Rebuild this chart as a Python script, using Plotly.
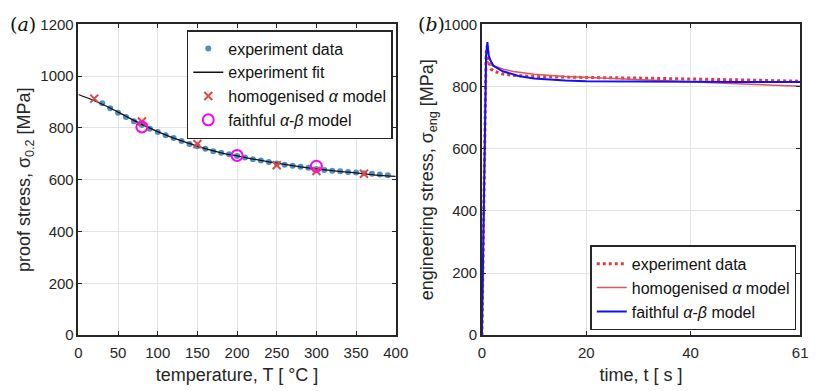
import plotly.graph_objects as go

# ---- panel (a) data ----
exp_T = list(range(30, 400, 10))
exp_sigma = [895, 876, 859, 842, 826, 811, 797, 784, 772, 761, 750, 738, 729, 720, 710,
             704, 698, 692, 686, 679, 674, 668, 663, 658, 654, 650, 646, 641, 638, 635,
             633, 630, 628, 625, 623, 620, 617]
fit_T = list(range(0, 401, 20))
fit_sigma = [929, 905, 877, 845, 814, 786, 761, 740, 720, 704, 692, 680, 669, 659, 650,
             642, 635, 629, 623, 617, 613]
homo_T = [20, 80, 150, 250, 300, 360]
homo_sigma = [913, 825, 738, 656, 634, 623]
faith_T = [80, 200, 300]
faith_sigma = [804, 694, 652]

# ---- panel (b) data ----
exp_t = [0, 0.2, 0.4, 0.6, 0.8, 1.0, 1.3, 1.8, 2.5, 4, 6, 10, 15, 20, 30, 40, 50, 61]
exp_s = [0, 250, 550, 800, 905, 930, 880, 855, 848, 840, 836, 832, 830, 829, 827, 825, 821, 817]
homo_t = [0, 0.2, 0.4, 0.6, 0.8, 1.0, 1.5, 2.2, 4, 6, 10, 16, 20, 30, 40, 50, 61]
homo_s = [0, 250, 550, 800, 870, 882, 872, 866, 856, 848, 839, 832, 829, 822, 815, 808, 801]
faith_t = [0, 0.2, 0.4, 0.6, 0.8, 1.05, 1.3, 1.6, 2.2, 4, 7, 10, 16, 20, 30, 40, 50, 61]
faith_s = [0, 260, 560, 810, 900, 943, 900, 885, 867, 849, 834, 826, 819, 817, 815, 815, 814, 814]

FONT = "Liberation Sans, Arial, sans-serif"
AX = "#262626"
GRID = "#e3e3e3"

fig = go.Figure()

fig.add_trace(go.Scatter(x=exp_T, y=exp_sigma, mode="markers", name="experiment data",
                         marker=dict(color="#4f8dc2", size=6), legend="legend"))
fig.add_trace(go.Scatter(x=fit_T, y=fit_sigma, mode="lines", name="experiment fit",
                         line=dict(color="#111111", width=1.3, shape="spline"), legend="legend"))
fig.add_trace(go.Scatter(x=homo_T, y=homo_sigma, mode="markers", name="homogenised <i>α</i> model",
                         marker=dict(symbol="x-thin", color="#e04848", size=8,
                                     line=dict(color="#e04848", width=2)), legend="legend"))
fig.add_trace(go.Scatter(x=faith_T, y=faith_sigma, mode="markers", name="faithful <i>α</i>-<i>β</i> model",
                         marker=dict(symbol="circle-open", color="#ff00ff", size=11,
                                     line=dict(color="#ff00ff", width=2)), legend="legend"))

fig.add_trace(go.Scatter(x=exp_t, y=exp_s, mode="lines", name="experiment data",
                         line=dict(color="#e03a3a", width=3, dash="dot"),
                         xaxis="x2", yaxis="y2", legend="legend2"))
fig.add_trace(go.Scatter(x=homo_t, y=homo_s, mode="lines", name="homogenised <i>α</i> model",
                         line=dict(color="#e05555", width=1.5),
                         xaxis="x2", yaxis="y2", legend="legend2"))
fig.add_trace(go.Scatter(x=faith_t, y=faith_s, mode="lines", name="faithful <i>α</i>-<i>β</i> model",
                         line=dict(color="#1010ff", width=2),
                         xaxis="x2", yaxis="y2", legend="legend2"))

axis_common = dict(showline=True, linecolor=AX, linewidth=1.5, mirror="ticks",
                   ticks="inside", ticklen=4, tickcolor=AX, showgrid=True,
                   gridcolor=GRID, gridwidth=1, zeroline=False,
                   tickfont=dict(family=FONT, size=15, color=AX),
                   title_font=dict(family=FONT, size=18, color=AX))

y0, y1 = 1 - 341 / 391, 1 - 16 / 391

legend_common = dict(bgcolor="white", bordercolor=AX, borderwidth=1.5,
                     font=dict(family=FONT, size=16, color="#111111"),
                     tracegroupgap=0, itemwidth=30)

fig.update_layout(
    width=822, height=391,
    margin=dict(l=0, r=0, t=0, b=0),
    paper_bgcolor="white", plot_bgcolor="white",
    font=dict(family=FONT, color=AX),
    xaxis=dict(domain=[76 / 822, 400 / 822], range=[0, 400], dtick=50, ticklabelstandoff=3,
               title=dict(text="temperature, T [ °C ]", standoff=8), anchor="y", **axis_common),
    yaxis=dict(domain=[y0, y1], range=[0, 1200], dtick=200,
               title=dict(text="proof stress, σ<sub>0.2</sub> [MPa]", standoff=5), anchor="x", **axis_common),
    xaxis2=dict(domain=[488 / 822, 813 / 822], range=[0, 61], tickvals=[0, 20, 40, 61], ticklabelstandoff=3,
                title=dict(text="time, t [ s ]", standoff=8), anchor="y2", **axis_common),
    yaxis2=dict(domain=[y0, y1], range=[0, 1000], dtick=200,
                title=dict(text="engineering stress, σ<sub>eng</sub> [MPa]", standoff=5), anchor="x2", **axis_common),
    legend=dict(x=397 / 822, y=1 - 22 / 391, xanchor="right", yanchor="top", **legend_common),
    legend2=dict(x=809 / 822, y=1 - 336 / 391, xanchor="right", yanchor="bottom", **legend_common),
    showlegend=True,
    annotations=[
        dict(text="(<i>a</i>)", x=4 / 822, y=1 - 16 / 391, xref="paper", yref="paper", showarrow=False,
             font=dict(family="DejaVu Serif, serif", size=19, color="#111111"),
             xanchor="left", yanchor="middle"),
        dict(text="(<i>b</i>)", x=421 / 822, y=1 - 16 / 391, xref="paper", yref="paper", showarrow=False,
             font=dict(family="DejaVu Serif, serif", size=19, color="#111111"),
             xanchor="left", yanchor="middle"),
    ],
)

fig.write_html("out.html")
